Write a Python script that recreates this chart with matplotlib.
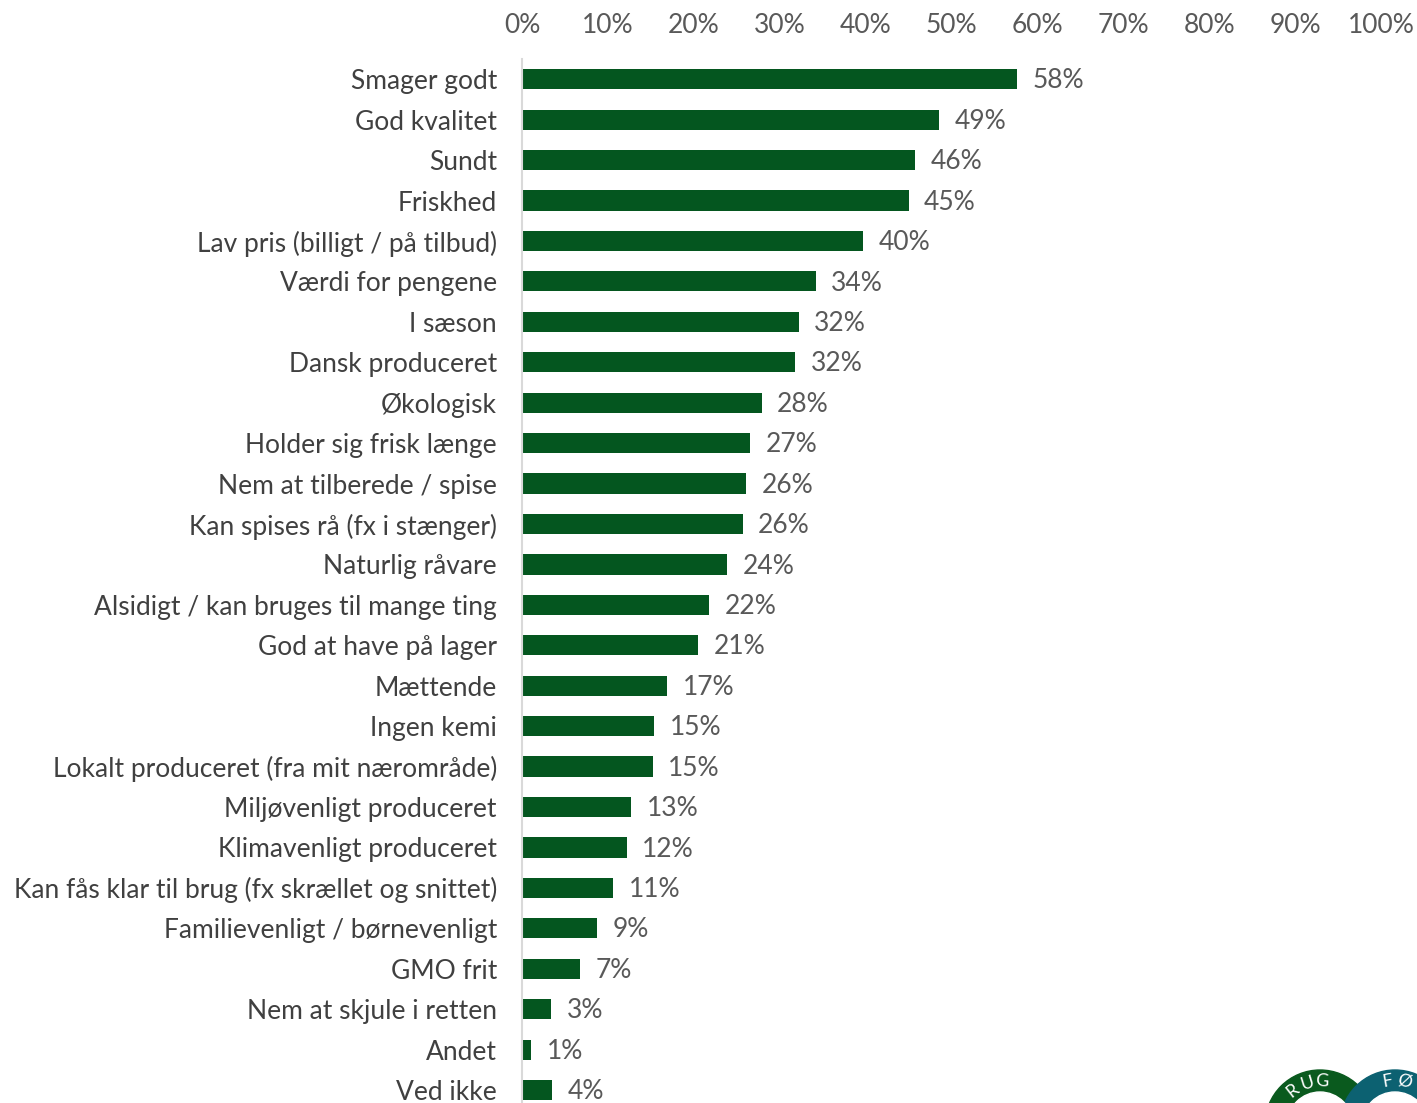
import numpy as np
import matplotlib.pyplot as plt
from matplotlib.patches import Circle

# Survey answers (share of respondents)
categories = [
    'Smager godt', 'God kvalitet', 'Sundt', 'Friskhed',
    'Lav pris (billigt / på tilbud)', 'Værdi for pengene', 'I sæson',
    'Dansk produceret', 'Økologisk', 'Holder sig frisk længe',
    'Nem at tilberede / spise', 'Kan spises rå (fx i stænger)',
    'Naturlig råvare', 'Alsidigt / kan bruges til mange ting',
    'God at have på lager', 'Mættende', 'Ingen kemi',
    'Lokalt produceret (fra mit nærområde)', 'Miljøvenligt produceret',
    'Klimavenligt produceret', 'Kan fås klar til brug (fx skrællet og snittet)',
    'Familievenligt / børnevenligt', 'GMO frit', 'Nem at skjule i retten',
    'Andet', 'Ved ikke',
]
values = [57.6, 48.6, 45.8, 45.0, 39.7, 34.2, 32.2, 31.8, 27.9, 26.6,
          26.1, 25.7, 23.9, 21.8, 20.5, 16.9, 15.4, 15.2, 12.7, 12.2,
          10.6, 8.7, 6.8, 3.4, 1.1, 3.5]
value_labels = ['58%', '49%', '46%', '45%', '40%', '34%', '32%', '32%', '28%', '27%',
                '26%', '26%', '24%', '22%', '21%', '17%', '15%', '15%', '13%', '12%',
                '11%', '9%', '7%', '3%', '1%', '4%']
xticks = [0, 10, 20, 30, 40, 50, 60, 70, 80, 90, 100]

plt.rcParams['font.family'] = ['Lato', 'DejaVu Sans']
green = '#04561F'

fig = plt.figure(figsize=(14.17, 11.03), dpi=100)
ax = fig.add_axes([522 / 1417, 0, (1381 - 522) / 1417, (1103 - 59) / 1103])

y = np.arange(len(categories))
ax.barh(y, values, height=0.5, color=green)
for yi, v, lab in zip(y, values, value_labels):
    ax.text(v + 1.8, yi + 0.04, lab, va='center', ha='left', fontsize=19, color='#595959')

ax.set_xlim(0, 100)
ax.set_ylim(25.32, -0.5)
ax.set_yticks(y)
ax.set_yticklabels(categories, fontsize=19, color='#404040')
ax.set_xticks(xticks)
ax.set_xticklabels([f'{t}%' for t in xticks], fontsize=19, color='#595959')
ax.xaxis.tick_top()
ax.tick_params(axis='both', length=0)
ax.tick_params(axis='x', pad=15)
ax.tick_params(axis='y', pad=18)
for s in ['top', 'right', 'bottom']:
    ax.spines[s].set_visible(False)
ax.spines['left'].set_color('#d9d9d9')
ax.spines['left'].set_linewidth(1.5)

# partial logo in the bottom right corner (figure pixel coords)
lax = fig.add_axes([0, 0, 1, 1])
lax.set_xlim(0, 1417)
lax.set_ylim(1103, 0)
lax.axis('off')
lax.add_patch(Circle((1320, 1125), 55, color='#0A5A1E'))
lax.add_patch(Circle((1395, 1125), 55, color='#0C6171'))
lax.add_patch(Circle((1320, 1125), 33, color='white'))
lax.add_patch(Circle((1395, 1125), 33, color='white'))
for ch, ang in zip('RUG', [-128, -107, -88]):
    a = np.radians(ang)
    lax.text(1320 + 44 * np.cos(a), 1125 + 44 * np.sin(a), ch, color='white',
             fontsize=13, ha='center', va='center', rotation=-(ang + 90))
for ch, ang in zip('FØ', [-100, -78]):
    a = np.radians(ang)
    lax.text(1395 + 44 * np.cos(a), 1125 + 44 * np.sin(a), ch, color='white',
             fontsize=13, ha='center', va='center', rotation=-(ang + 90))

fig.savefig('out.png', dpi=100)
